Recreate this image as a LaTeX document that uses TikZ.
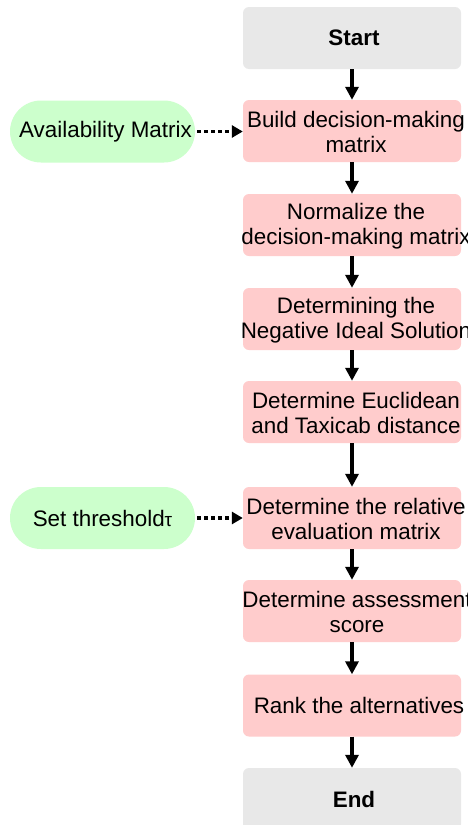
\documentclass[tikz,border=0pt]{standalone}
\usepackage{fontspec}
\setmainfont{Liberation Sans}
\usetikzlibrary{arrows.meta}
\definecolor{pinkbox}{HTML}{FFCCCC}
\definecolor{greybox}{HTML}{E8E8E8}
\definecolor{greenbox}{HTML}{CCFFCC}
\begin{document}
\begin{tikzpicture}[x=1pt,y=-1pt,
  txt/.style={font=\fontsize{22.4}{24.5}\selectfont, align=center, inner sep=0pt},
  stepbox/.style={fill=pinkbox, rounded corners=6pt, minimum width=218pt, minimum height=62pt, inner sep=0pt},
  termbox/.style={stepbox, fill=greybox},
  inbox/.style={fill=greenbox, rounded corners=31pt, minimum width=185pt, minimum height=62pt, inner sep=0pt},
  flow/.style={line width=3.5pt, -{Triangle[length=13pt,width=13pt]}},
  feed/.style={line width=3.5pt, dash pattern=on 3.5pt off 3.5pt, -{Triangle[length=11pt,width=12pt]}}
]
\useasboundingbox (0,0) rectangle (467,825);
\fill[white] (0,0) rectangle (467,825);
% boxes
\node[termbox] (s) at (352,38) {};
\node[stepbox] (b1) at (352,131) {};
\node[stepbox] (b2) at (352,225) {};
\node[stepbox] (b3) at (352,319) {};
\node[stepbox] (b4) at (352,412) {};
\node[stepbox] (b5) at (352,518) {};
\node[stepbox] (b6) at (352,611) {};
\node[stepbox] (b7) at (352,705.5) {};
\node[termbox] (e) at (352,799) {};
\node[inbox] (in1) at (102.5,131.5) {};
\node[inbox] (in2) at (102.5,518) {};
% texts
\node[txt] (st) at ([xshift=2pt]s.center) {\textbf{Start}};
\node[txt] (b1t) at ([xshift=4pt,yshift=-1pt]b1.center) {Build decision-making\\matrix};
\node[txt] (b2t) at ([xshift=4pt,yshift=-1pt]b2.center) {Normalize the\\decision-making matrix};
\node[txt] (b3t) at ([xshift=4pt,yshift=-1pt]b3.center) {Determining the\\Negative Ideal Solution};
\node[txt] (b4t) at ([xshift=4pt,yshift=-1pt]b4.center) {Determine Euclidean\\and Taxicab distance};
\node[txt] (b5t) at ([xshift=4pt,yshift=-1pt]b5.center) {Determine the relative\\evaluation matrix};
\node[txt] (b6t) at ([xshift=5pt,yshift=-1pt]b6.center) {Determine assessment\\score};
\node[txt] (b7t) at ([xshift=7pt]b7.center) {Rank the alternatives};
\node[txt] (et) at ([xshift=2pt]e.center) {\textbf{End}};
\node[txt] (in1t) at ([xshift=3pt]in1.center) {Availability Matrix};
\node[txt] (in2t) at ([xshift=0pt]in2.center) {Set threshold{\fontsize{19}{19}\selectfont τ}};
% connectors
\draw[flow] (s) -- (b1);
\draw[flow] (b1) -- (b2);
\draw[flow] (b2) -- (b3);
\draw[flow] (b3) -- (b4);
\draw[flow] (b4) -- (b5);
\draw[flow] (b5) -- (b6);
\draw[flow] (b6) -- (b7);
\draw[flow] (b7) -- (e);
\draw[feed] ([xshift=2pt]in1.east) -- (b1.west |- in1.east);
\draw[feed] ([xshift=2pt]in2.east) -- (b5.west |- in2.east);
\end{tikzpicture}
\end{document}
